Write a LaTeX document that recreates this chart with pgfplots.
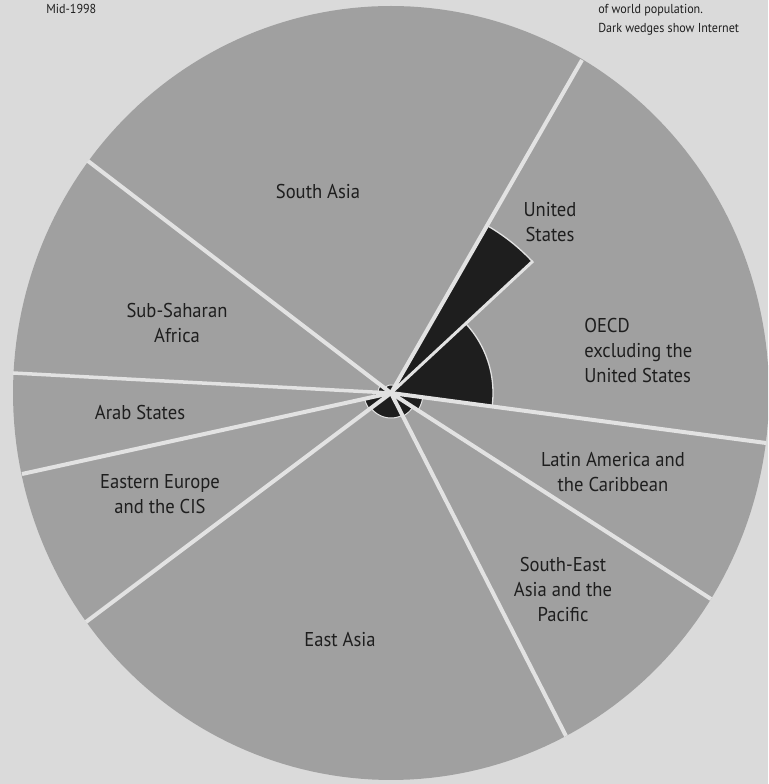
\documentclass[border=0pt]{standalone}
\usepackage{pgfplots}
\pgfplotsset{compat=1.18}
\usepackage{fontspec}
\setmainfont{PT Sans}
\definecolor{bgc}{RGB}{218,218,218}
\definecolor{pie}{RGB}{160,160,160}
\definecolor{sep}{RGB}{226,226,226}
\definecolor{dark}{RGB}{30,30,30}
\definecolor{txt}{RGB}{30,30,30}
\begin{document}
\begin{tikzpicture}
\begin{axis}[
  x=1pt, y=1pt,
  xmin=-391, xmax=377, ymin=-391, ymax=393,
  hide axis, clip=true,
]
% background
\addplot[fill=bgc, draw=none] coordinates {(-391,-391) (377,-391) (377,393) (-391,393)} -- cycle;
% grey disc (population, angle = share of world population)
\addplot[fill=pie, draw=none, domain=0:360, samples=241] ({378*cos(x)},{387*sin(x)}) -- cycle;
% dark wedges: Internet users (start angle, end angle, radius)
\addplot[fill=dark, draw=sep, line width=1.3pt, domain=42.9:60.2, samples=30] ({193*cos(x)},{193*sin(x)}) -- (axis cs:0,0) -- cycle; % United States
\addplot[fill=dark, draw=sep, line width=1.3pt, domain=-7.6:42.9, samples=40] ({102*cos(x)},{102*sin(x)}) -- (axis cs:0,0) -- cycle; % OECD excl. US
\addplot[fill=dark, draw=sep, line width=1.0pt, domain=60.2:142.6, samples=30] ({8*cos(x)},{8*sin(x)}) -- (axis cs:0,0) -- cycle; % South Asia
\addplot[fill=dark, draw=sep, line width=1.0pt, domain=142.6:177, samples=20] ({13*cos(x)},{13*sin(x)}) -- (axis cs:0,0) -- cycle; % Sub-Saharan Africa
\addplot[fill=dark, draw=sep, line width=1.0pt, domain=177:192.3, samples=20] ({17*cos(x)},{17*sin(x)}) -- (axis cs:0,0) -- cycle; % Arab States
\addplot[fill=dark, draw=sep, line width=1.0pt, domain=192.3:216.9, samples=20] ({27*cos(x)},{27*sin(x)}) -- (axis cs:0,0) -- cycle; % Eastern Europe
\addplot[fill=dark, draw=sep, line width=1.0pt, domain=216.9:297, samples=30] ({25*cos(x)},{25*sin(x)}) -- (axis cs:0,0) -- cycle; % East Asia
\addplot[fill=dark, draw=sep, line width=1.0pt, domain=297:327.2, samples=20] ({26*cos(x)},{26*sin(x)}) -- (axis cs:0,0) -- cycle; % South-East Asia
\addplot[fill=dark, draw=sep, line width=1.0pt, domain=327.2:352.4, samples=20] ({32*cos(x)},{32*sin(x)}) -- (axis cs:0,0) -- cycle; % Latin America
% separator lines
\addplot[draw=sep, line width=4pt] coordinates {(0,0) (191,333)};
\addplot[draw=sep, line width=4pt] coordinates {(0,0) (-303,232)};
\addplot[draw=sep, line width=3.5pt] coordinates {(0,0) (-378,20)};
\addplot[draw=sep, line width=4pt] coordinates {(0,0) (-369,-81)};
\addplot[draw=sep, line width=4pt] coordinates {(0,0) (-305,-229)};
\addplot[draw=sep, line width=4pt] coordinates {(0,0) (175,-343)};
\addplot[draw=sep, line width=4pt] coordinates {(0,0) (320,-206)};
\addplot[draw=sep, line width=4pt] coordinates {(0,0) (375,-50)};
\addplot[draw=sep, line width=3pt] coordinates {(0,0) (142,132)};
% labels
\begin{scope}[every node/.style={font=\fontsize{20}{25}\selectfont, text=txt, align=center, xscale=0.93}]
\node at (axis cs:-73,201) {South Asia};
\node at (axis cs:159,171) {United\\States};
\node[anchor=west] at (axis cs:190,40) {\begin{tabular}{@{}l@{}}OECD\\excluding the\\United States\end{tabular}};
\node at (axis cs:-214,70) {Sub-Saharan\\Africa};
\node at (axis cs:-251,-20) {Arab States};
\node at (axis cs:-231,-101) {Eastern Europe\\and the CIS};
\node at (axis cs:222,-79) {Latin America and\\the Caribbean};
\node at (axis cs:172,-197) {South-East\\Asia and the\\Pacific};
\node at (axis cs:-51,-247) {East Asia};
\end{scope}
\begin{scope}[every node/.style={font=\fontsize{13}{16}\selectfont, text=txt, anchor=base west, xscale=0.93}]
\node at (axis cs:-348,379) {Mid-1998};
\node at (axis cs:204,379) {of world population.};
\node at (axis cs:204,360) {Dark wedges show Internet};
\end{scope}
\end{axis}
\pgfresetboundingbox
\path[use as bounding box] (current axis.south west) rectangle (current axis.north east);
\end{tikzpicture}
\end{document}
